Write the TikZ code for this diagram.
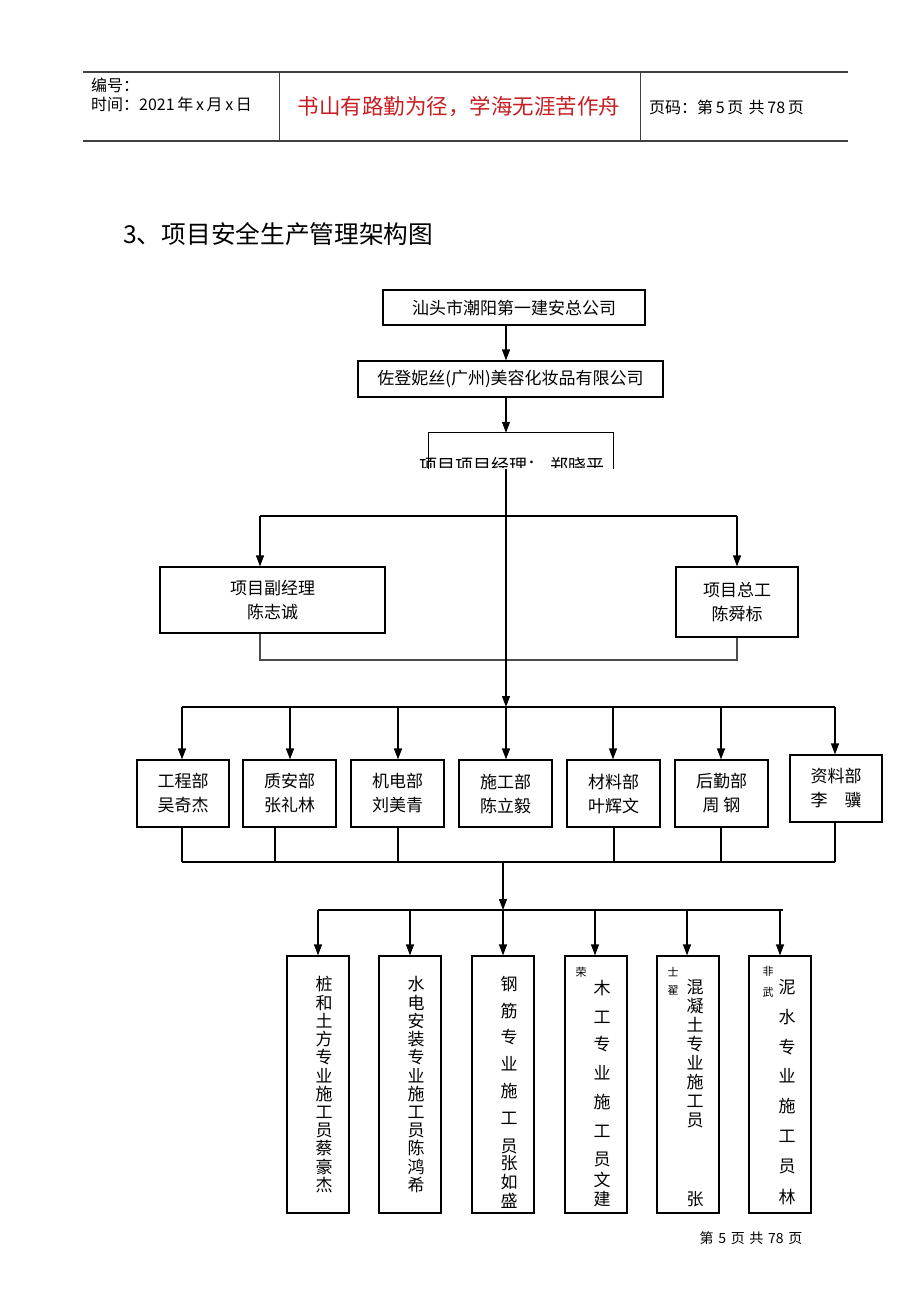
\documentclass[tikz,border=0pt]{standalone}
\usepackage{fontspec}
\setmainfont{Liberation Serif}
\newfontfamily\cjk{Noto Sans CJK SC}
\usetikzlibrary{arrows.meta}
\definecolor{mottored}{RGB}{200,30,35}
\newcommand\colchars[3]{% prefix, x, list of y/char
  \foreach \yy/\cc [count=\i] in {#3} {\node[colchar] (#1-\i) at (#2,\yy) {\cc};}}
\begin{document}
\begin{tikzpicture}[x=1pt,y=-1pt,
  box/.style={draw=black,line width=1.2pt,inner sep=0pt,align=center,font=\cjk\fontsize{17}{24}\selectfont},
  ln/.style={line width=1.2pt},
  arr/.style={line width=1.2pt,-{Triangle[length=11pt,width=8pt]}},
  colchar/.style={inner sep=0pt,font=\cjk\fontsize{17}{17}\selectfont},
  tiny/.style={inner sep=0pt,font=\cjk\fontsize{11}{11}\selectfont},
  hdr/.style={inner sep=0pt,anchor=west,font=\cjk\fontsize{16}{16}\selectfont}]
\useasboundingbox[fill=white] (0,0) rectangle (920,1302);
% header
\draw[line width=1.2pt,black!75] (83,72) -- (848,72);
\draw[line width=1.2pt,black!75] (83,141) -- (848,141);
\draw[line width=1pt,black!75] (279,72) -- (279,141);
\draw[line width=1pt,black!75] (640,72) -- (640,141);
\node[hdr] (h1) at (91,85) {编号：};
\node[hdr] (h2) at (91,104) {时间：2021\,年\,x\,月\,x\,日};
\node[inner sep=0pt,text=mottored,font=\cjk\fontsize{21.5}{22}\selectfont] (h3) at (459,107) {书山有路勤为径，学海无涯苦作舟};
\node[hdr] (h4) at (649,107) {页码：第\,5\,页\,\,共\,78\,页};
% title
\node[inner sep=0pt,anchor=west,font=\cjk\fontsize{24.7}{25}\selectfont] (title) at (123,234) {3、项目安全生产管理架构图};
% top boxes
\node[box,minimum width=262pt,minimum height=35pt] (b1) at (514,307.5) {汕头市潮阳第一建安总公司};
\node[box,minimum width=305pt,minimum height=36pt] (b2) at (510.5,379) {佐登妮丝(广州)美容化妆品有限公司};
\node[minimum width=184pt,minimum height=36pt,inner sep=0pt] (pm) at (521,451) {};
\draw[ln] (pm.south west) -- (pm.north west) -- (pm.north east) -- (pm.south east);
\begin{scope}
  \clip (400,454) rectangle (620,467);
  \node[inner sep=0pt,font=\cjk\fontsize{18}{18}\selectfont] (pmtext) at (512,466) {项目项目经理： 郑晓平};
\end{scope}
\coordinate (s1) at (506,325);
\coordinate (s2) at (506,397);
\coordinate (s3) at (506,469);
\draw[arr] (s1) -- (s1 |- b2.north);
\draw[arr] (s2) -- (s2 |- pm.north);
% second level
\node[box,minimum width=225pt,minimum height=66pt] (vp) at (272.5,600) {项目副经理\\陈志诚};
\node[box,minimum width=122pt,minimum height=70pt] (ce) at (737,602) {项目总工\\陈舜标};
\coordinate (brL) at (260,516);
\coordinate (brR) at (737,516);
\draw[ln] (brL) -- (brR);
\draw[arr] (brL) -- (brL |- vp.north);
\draw[arr] (brR) -- (brR |- ce.north);
\coordinate (jL) at (260,660);
\coordinate (jR) at (737,660);
\draw[ln,black!70] (brL |- vp.south) -- (jL) -- (jR) -- (brR |- ce.south);
% departments
\coordinate (bus1) at (506,707);
\draw[arr] (s3) -- (bus1);
\draw[ln] (182,707) -- (835,707);
\node[box,minimum width=92pt,minimum height=67pt] (d1) at (183,793.5) {工程部\\吴奇杰};
\node[box,minimum width=93pt,minimum height=67pt] (d2) at (289.5,793.5) {质安部\\张礼林};
\node[box,minimum width=93pt,minimum height=67pt] (d3) at (397.5,793.5) {机电部\\刘美青};
\node[box,minimum width=93pt,minimum height=67pt] (d4) at (505.5,793.5) {施工部\\陈立毅};
\node[box,minimum width=93pt,minimum height=67pt] (d5) at (613.5,793.5) {材料部\\叶辉文};
\node[box,minimum width=93pt,minimum height=67pt] (d6) at (721.5,793.5) {后勤部\\周 钢};
\node[box,minimum width=92pt,minimum height=67pt] (d7) at (836,788.5) {资料部\\李\hspace{17pt}骥};
\foreach \xx/\nn in {182/d1,290/d2,398/d3,506/d4,613/d5,721/d6,835/d7}
  \draw[arr] (\xx,707) -- (\xx,0 |- \nn.north);
\coordinate (bus2L) at (182,862);
\coordinate (bus2R) at (835,862);
\draw[ln] (bus2L) -- (bus2R);
\foreach \xx/\nn in {182/d1,275/d2,398/d3,614/d5,721/d6,835/d7}
  \draw[ln] (\xx,0 |- \nn.south) -- (\xx,862);
\coordinate (b2c) at (503,862);
\coordinate (bus3) at (503,910);
\draw[arr] (b2c) -- (bus3);
\draw[ln] (318,910) -- (783,910);
% workers
\node[box,minimum width=62pt,minimum height=257pt] (w1) at (318,1084.5) {};
\node[box,minimum width=62pt,minimum height=257pt] (w2) at (410,1084.5) {};
\node[box,minimum width=62pt,minimum height=257pt] (w3) at (503,1084.5) {};
\node[box,minimum width=62pt,minimum height=257pt] (w4) at (596,1084.5) {};
\node[box,minimum width=62pt,minimum height=257pt] (w5) at (688,1084.5) {};
\node[box,minimum width=62pt,minimum height=257pt] (w6) at (780,1084.5) {};
\foreach \xx/\nn in {318/w1,410/w2,503/w3,595/w4,687/w5,780/w6}
  \draw[arr] (\xx,910) -- (\xx,0 |- \nn.north);
\colchars{c1}{324}{984.5/桩,1002.7/和,1020.9/土,1039.1/方,1057.3/专,1075.5/业,1093.7/施,1111.9/工,1130.1/员,1148.3/蔡,1166.5/豪,1184.7/杰}
\colchars{c2}{416}{984.5/水,1002.7/电,1020.9/安,1039.1/装,1057.3/专,1075.5/业,1093.7/施,1111.9/工,1130.1/员,1148.3/陈,1166.5/鸿,1184.7/希}
\colchars{c3}{509}{984/钢,1011/筋,1037/专,1064/业,1091/施,1118/工,1146/员,1163/张,1182/如,1201/盛}
\colchars{c4}{602}{988/木,1017/工,1044/专,1073/业,1102/施,1131/工,1159/员,1180/文,1199/建}
\colchars{c5}{695}{987/混,1006/凝,1025/土,1044/专,1063/业,1082/施,1101/工,1120/员,1199/张}
\colchars{c6}{787}{987/泥,1017/水,1047/专,1076/业,1106/施,1136/工,1166/员,1197/林}
\node[tiny] (x4) at (581,972) {荣};
\node[tiny] (x5a) at (673,972) {士};
\node[tiny] (x5b) at (673,991) {翟};
\node[tiny] (x6a) at (768,971) {非};
\node[tiny] (x6b) at (768,992) {武};
% footer
\node[inner sep=0pt,font=\cjk\fontsize{14}{14}\selectfont] (foot) at (751,1238) {第\,\,5\,\,页\,\,共\,\,78\,\,页};
\end{tikzpicture}
\end{document}
